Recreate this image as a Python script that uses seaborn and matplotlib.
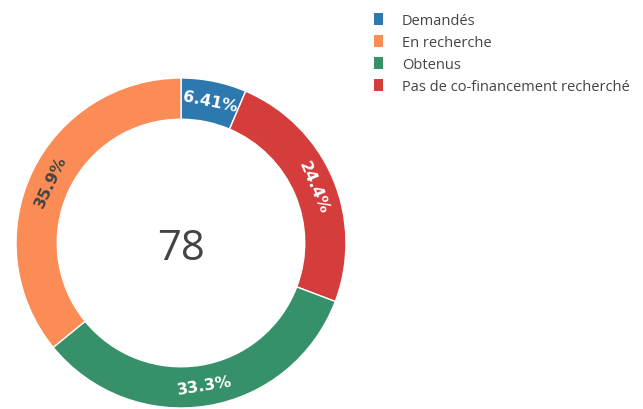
import matplotlib
matplotlib.use("Agg")
import matplotlib.pyplot as plt
import seaborn as sns
from matplotlib.patches import Patch
import numpy as np

# data (counts, total 78)
categories = ["Demandés", "Pas de co-financement recherché", "Obtenus", "En recherche"]
counts = [5, 19, 26, 28]
colors = ["#2e78b0", "#d53d3d", "#36916b", "#fb8c55"]
label_colors = ["white", "white", "white", "#444444"]
legend_order = ["Demandés", "En recherche", "Obtenus", "Pas de co-financement recherché"]

sns.set_theme(style="white")
plt.rcParams['font.family'] = ['DejaVu Sans']

W, H = 643, 410
fig = plt.figure(figsize=(W / 100, H / 100), dpi=100)

# donut centre and radius in pixels
cx, cy, r = 181, 244, 165
ax = fig.add_axes([(cx - r) / W, (H - cy - r) / H, 2 * r / W, 2 * r / H])

hole = 0.75
wedges, _ = ax.pie(counts, colors=colors, startangle=90, counterclock=False,
                   radius=1, wedgeprops=dict(width=1 - hole, edgecolor="white", linewidth=1))
ax.set_xlim(-1, 1)
ax.set_ylim(-1, 1)
ax.axis("off")

total = sum(counts)
for w, c, tc in zip(wedges, counts, label_colors):
    mid = (w.theta1 + w.theta2) / 2
    rr = (1 + hole) / 2
    x, y = rr * np.cos(np.radians(mid)), rr * np.sin(np.radians(mid))
    rot = (mid - 90) % 360
    if rot > 180:
        rot -= 360
    if rot > 90:
        rot -= 180
    elif rot < -90:
        rot += 180
    pct = 100 * c / total
    txt = f"{pct:.3g}%"
    ax.text(x, y, txt, rotation=rot, rotation_mode="anchor", ha="center", va="center",
            color=tc, fontsize=11.5, fontweight="bold")

ax.text(0, -0.03, str(total), ha="center", va="center", fontsize=30, color="#444444",
        family=["Open Sans", "DejaVu Sans"])

handles = [Patch(facecolor=colors[categories.index(n)], edgecolor="none") for n in legend_order]
fig.legend(handles, legend_order, loc="upper left", bbox_to_anchor=(374 / W, 1 - 13.5 / H),
           frameon=False, borderaxespad=0, borderpad=0,
           handlelength=0.65, handleheight=0.9, handletextpad=1.25, labelspacing=0.48,
           labelcolor="#444444", prop={"family": ["Open Sans", "DejaVu Sans"], "size": 10.5})

fig.savefig("out.png", dpi=100)
